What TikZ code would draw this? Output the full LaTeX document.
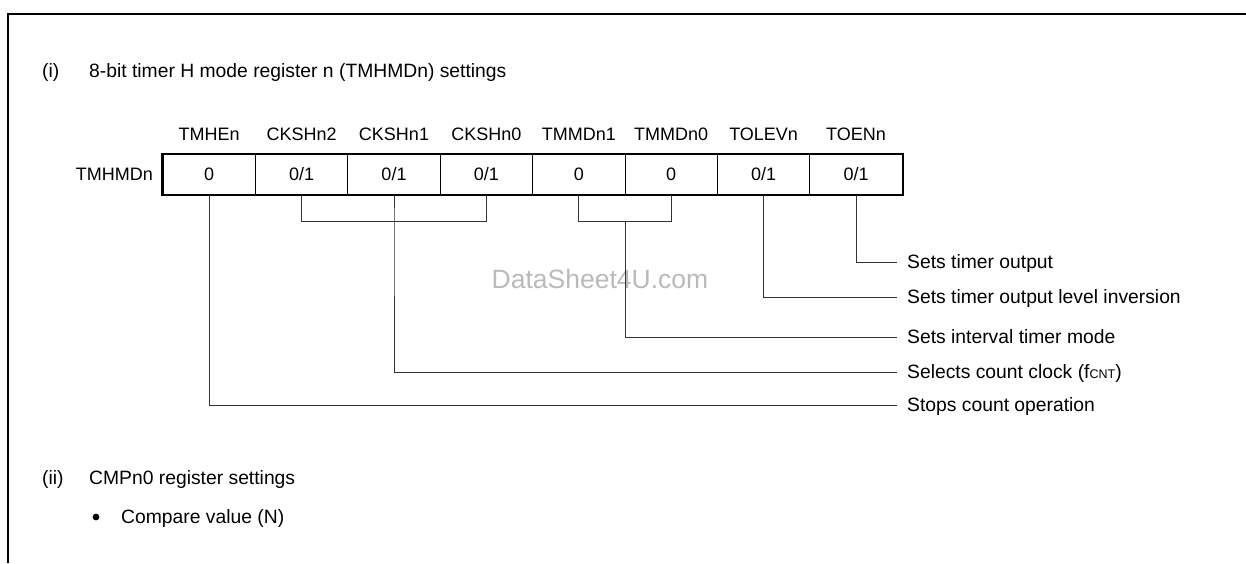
\documentclass[tikz,border=0pt]{standalone}
\usepackage{fontspec}
\setmainfont{Liberation Sans}
\begin{document}
\begin{tikzpicture}[x=1pt,y=-1pt,
  big/.style={font=\fontsize{19.3}{22}\selectfont, inner sep=0pt},
  small/.style={font=\fontsize{18}{21}\selectfont, inner sep=0pt},
  cell/.style={draw=black, line width=0.9pt, minimum width=92.4pt, minimum height=40.5pt, inner sep=0pt, font=\fontsize{18}{21}\selectfont, anchor=center},
  conn/.style={draw=black!80, line width=0.9pt},
  frame/.style={draw=black, line width=2.6pt},
  wmark/.style={font=\fontsize{26.5}{30}\selectfont, inner sep=0pt, text=black!27}
]
\useasboundingbox (0,0) rectangle (1246,563);
% frame
\draw[frame] (1246,14) -- (8,14) -- (8,563);
% watermark
\node[wmark] (wm) at (600,279) {DataSheet4U.com};
% title
\node[big, anchor=base west] (t1) at (42,77) {(i)};
\node[big, anchor=base west] (t2) at (89,77) {8-bit timer H mode register n (TMHMDn) settings};
% register cells
\foreach \i/\v/\l in {1/{0}/TMHEn,2/{0/1}/CKSHn2,3/{0/1}/CKSHn1,4/{0/1}/CKSHn0,5/{0}/TMMDn1,6/{0}/TMMDn0,7/{0/1}/TOLEVn,8/{0/1}/TOENn}{
  \node[cell] (c\i) at ({163+92.4*(\i-0.5)},174.3) {\v};
  \node[small, anchor=base] (b\i) at ({163+92.4*(\i-0.5)},140) {\l};
}
\draw[line width=2.2pt] (c1.north west) rectangle (c8.south east);
\node[small, anchor=base east] (reg) at (153,180) {TMHMDn};
% descriptions
\node[big, anchor=base west] (d1) at (907,268.5) {Sets timer output};
\node[big, anchor=base west] (d2) at (907,303.5) {Sets timer output level inversion};
\node[big, anchor=base west] (d3) at (907,343.5) {Sets interval timer mode};
\node[big, anchor=base west] (d4) at (907,378.5) {Selects count clock (f{\fontsize{12.5}{14}\selectfont CNT})};
\node[big, anchor=base west] (d5) at (907,411.5) {Stops count operation};
\coordinate (e1) at (897,262);
\coordinate (e2) at (897,297);
\coordinate (e3) at (897,337);
\coordinate (e4) at (897,372);
\coordinate (e5) at (897,405);
% connectors
\draw[conn] (c8.south) |- (e1);
\draw[conn] (c7.south) |- (e2);
\draw[conn] (c5.south) -- ++(0,26) -| (c6.south);
\coordinate (m56) at ([yshift=-26pt]c5.south east);
\draw[conn] (m56) |- (e3);
\draw[conn] (c2.south) -- ++(0,26) -| (c4.south);
\coordinate (m24) at ([yshift=-26pt]c3.south);
\draw[conn] (c3.south) -- (m24) |- (e4);
\draw[conn] (c1.south) |- (e5);
% section ii
\node[big, anchor=base west] (s1) at (42,484) {(ii)};
\node[big, anchor=base west] (s2) at (89,484) {CMPn0 register settings};
\fill (96,517) circle (3.4pt);
\node[big, anchor=base west] (s3) at (121,523) {Compare value (N)};
\end{tikzpicture}
\end{document}
